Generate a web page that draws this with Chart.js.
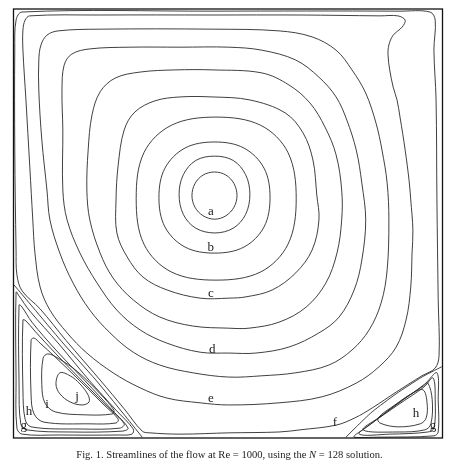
<!DOCTYPE html>
<html>
<head>
<meta charset="utf-8">
<script src="https://cdn.jsdelivr.net/npm/chart.js@4.4.1/dist/chart.umd.min.js"></script>
<style>
  html, body { margin: 0; padding: 0; background: #fff; }
  #wrap { position: relative; width: 459px; height: 474px; }
  #caption {
    position: absolute; left: 0; width: 459px; top: 449px;
    text-align: center; font-family: "Liberation Serif", serif; font-size: 10.6px; color: #222;
  }
</style>
</head>
<body>
<div id="wrap">
  <canvas id="flow-chart" width="459" height="474"></canvas>
  <div id="caption">Fig. 1. Streamlines of the flow at Re = 1000, using the <i>N</i> = 128 solution.</div>
</div>
<script>
// Streamlines in cavity coordinates (x, y from 0 to 1)
// Primary vortex, innermost (a) to the wall-hugging one (f)
const primary1 = [[0.469,0.620],[0.495,0.613],[0.514,0.593],[0.521,0.565],[0.514,0.538],[0.495,0.518],[0.469,0.510],[0.442,0.518],[0.423,0.538],[0.416,0.565],[0.423,0.593],[0.442,0.613]];
const primary2 = [[0.469,0.657],[0.512,0.647],[0.541,0.614],[0.551,0.568],[0.541,0.521],[0.512,0.489],[0.469,0.478],[0.425,0.489],[0.396,0.521],[0.386,0.568],[0.396,0.614],[0.425,0.647]];
const primary3 = [[0.469,0.690],[0.537,0.676],[0.584,0.629],[0.598,0.561],[0.584,0.492],[0.537,0.445],[0.469,0.431],[0.400,0.445],[0.353,0.492],[0.339,0.561],[0.353,0.629],[0.400,0.676]];
const primary4 = [[0.472,0.748],[0.576,0.729],[0.640,0.665],[0.659,0.558],[0.640,0.452],[0.576,0.387],[0.472,0.368],[0.368,0.387],[0.304,0.452],[0.286,0.558],[0.304,0.665],[0.368,0.729]];
const primary5 = [[0.463,0.795],[0.551,0.788],[0.633,0.758],[0.675,0.711],[0.698,0.648],[0.707,0.566],[0.712,0.508],[0.696,0.438],[0.658,0.385],[0.603,0.345],[0.542,0.329],[0.502,0.326],[0.435,0.326],[0.358,0.345],[0.302,0.375],[0.265,0.422],[0.241,0.478],[0.239,0.555],[0.244,0.636],[0.258,0.718],[0.283,0.760],[0.330,0.786],[0.388,0.795]];
const primary6 = [[0.465,0.858],[0.579,0.851],[0.642,0.823],[0.691,0.781],[0.726,0.725],[0.752,0.660],[0.765,0.578],[0.765,0.508],[0.754,0.431],[0.728,0.361],[0.682,0.305],[0.619,0.270],[0.549,0.256],[0.502,0.256],[0.418,0.261],[0.341,0.282],[0.279,0.322],[0.232,0.373],[0.202,0.431],[0.178,0.508],[0.171,0.578],[0.174,0.671],[0.183,0.753],[0.202,0.807],[0.237,0.839],[0.295,0.853],[0.376,0.858]];
const primary7 = [[0.502,0.911],[0.579,0.904],[0.658,0.881],[0.712,0.841],[0.752,0.795],[0.777,0.741],[0.799,0.671],[0.812,0.594],[0.821,0.508],[0.812,0.415],[0.794,0.345],[0.759,0.282],[0.712,0.245],[0.642,0.212],[0.565,0.198],[0.502,0.198],[0.435,0.200],[0.358,0.221],[0.295,0.252],[0.241,0.298],[0.195,0.361],[0.155,0.431],[0.125,0.508],[0.115,0.578],[0.115,0.718],[0.113,0.811],[0.118,0.869],[0.136,0.895],[0.178,0.907],[0.272,0.911],[0.388,0.911]];
const primary8 = [[0.465,0.953],[0.619,0.949],[0.696,0.935],[0.752,0.904],[0.789,0.858],[0.821,0.804],[0.845,0.734],[0.859,0.671],[0.871,0.594],[0.875,0.508],[0.871,0.392],[0.857,0.315],[0.829,0.252],[0.789,0.205],[0.735,0.170],[0.658,0.152],[0.579,0.145],[0.502,0.142],[0.418,0.152],[0.341,0.170],[0.279,0.200],[0.225,0.245],[0.178,0.298],[0.139,0.361],[0.108,0.431],[0.085,0.508],[0.078,0.578],[0.066,0.695],[0.059,0.811],[0.059,0.881],[0.064,0.916],[0.078,0.939],[0.104,0.949],[0.202,0.953]];
const primary9 = [[0.027,0.974],[0.038,0.984],[0.202,0.986],[0.465,0.986],[0.668,0.986],[0.854,0.984],[0.896,0.984],[0.913,0.974],[0.906,0.958],[0.885,0.939],[0.875,0.916],[0.873,0.893],[0.877,0.858],[0.885,0.818],[0.894,0.788],[0.901,0.748],[0.913,0.671],[0.922,0.601],[0.926,0.555],[0.931,0.485],[0.929,0.431],[0.926,0.352],[0.915,0.275],[0.892,0.212],[0.852,0.166],[0.799,0.128],[0.719,0.096],[0.619,0.082],[0.502,0.077],[0.435,0.082],[0.358,0.093],[0.295,0.117],[0.232,0.152],[0.171,0.198],[0.125,0.245],[0.085,0.298],[0.062,0.352],[0.050,0.431],[0.045,0.508],[0.038,0.632],[0.029,0.788],[0.022,0.904],[0.022,0.951]];
const primary10 = [[0.020,0.993],[0.465,0.995],[0.901,0.995],[0.971,0.993],[0.983,0.974],[0.980,0.904],[0.985,0.788],[0.987,0.555],[0.990,0.322],[0.992,0.193],[0.983,0.163],[0.952,0.145],[0.892,0.107],[0.836,0.070],[0.796,0.047],[0.752,0.030],[0.668,0.019],[0.619,0.014],[0.502,0.012],[0.388,0.009],[0.318,0.012],[0.300,0.016],[0.258,0.068],[0.202,0.135],[0.122,0.228],[0.062,0.301],[0.020,0.343],[0.008,0.380],[0.006,0.438],[0.003,0.671],[0.003,0.904],[0.006,0.974]];

// Dividing streamlines of the two bottom corner eddies
const sepLeft = [[0.001,0.357],[0.045,0.305],[0.113,0.224],[0.192,0.135],[0.255,0.058],[0.300,0.002]];
const sepRight = [[0.998,0.166],[0.952,0.142],[0.892,0.103],[0.836,0.061],[0.799,0.026],[0.775,0.002]];

// Bottom-left eddy, outermost to innermost (g, h, i, j)
const cornerLeft1 = [[0.006,0.340],[0.006,0.135],[0.008,0.023],[0.020,0.009],[0.108,0.007],[0.244,0.007],[0.276,0.009],[0.279,0.021],[0.239,0.065],[0.176,0.135],[0.106,0.219],[0.038,0.296],[0.013,0.331]];
const cornerLeft2 = [[0.013,0.310],[0.013,0.124],[0.017,0.033],[0.031,0.019],[0.132,0.014],[0.253,0.016],[0.267,0.023],[0.230,0.065],[0.167,0.133],[0.099,0.205],[0.043,0.270],[0.020,0.305]];
const cornerLeft3 = [[0.022,0.275],[0.022,0.112],[0.027,0.044],[0.041,0.026],[0.155,0.021],[0.248,0.023],[0.258,0.033],[0.220,0.072],[0.160,0.133],[0.099,0.196],[0.050,0.249],[0.029,0.273]];
const cornerLeft4 = [[0.041,0.228],[0.041,0.100],[0.048,0.056],[0.071,0.037],[0.178,0.033],[0.239,0.035],[0.244,0.044],[0.211,0.077],[0.155,0.133],[0.097,0.189],[0.062,0.221],[0.048,0.233]];
const cornerLeft5 = [[0.069,0.186],[0.066,0.124],[0.073,0.082],[0.097,0.061],[0.167,0.054],[0.230,0.056],[0.234,0.065],[0.202,0.103],[0.150,0.154],[0.104,0.186],[0.080,0.196]];
const cornerLeft6 = [[0.108,0.152],[0.132,0.145],[0.155,0.126],[0.174,0.100],[0.176,0.084],[0.160,0.077],[0.132,0.084],[0.108,0.103],[0.099,0.126]];

// Bottom-right eddy, outermost to innermost (g, h)
const cornerRight1 = [[0.987,0.152],[0.990,0.089],[0.990,0.014],[0.980,0.005],[0.854,0.002],[0.794,0.002],[0.824,0.026],[0.889,0.075],[0.959,0.126]];
const cornerRight2 = [[0.978,0.140],[0.983,0.089],[0.980,0.023],[0.966,0.014],[0.877,0.009],[0.806,0.009],[0.836,0.035],[0.896,0.077],[0.957,0.119]];
const cornerRight3 = [[0.966,0.128],[0.976,0.089],[0.973,0.033],[0.959,0.019],[0.894,0.014],[0.815,0.019],[0.854,0.049],[0.913,0.093],[0.955,0.121]];
const cornerRight4 = [[0.955,0.112],[0.964,0.082],[0.962,0.047],[0.948,0.033],[0.896,0.026],[0.854,0.035],[0.850,0.047],[0.889,0.077],[0.931,0.105]];

// Contour letters
const labelText = ["a", "b", "c", "d", "e", "f", "g", "g", "h", "h", "i", "j"];
const labelX = [0.460, 0.460, 0.460, 0.463, 0.460, 0.749, 0.024, 0.978, 0.036, 0.938, 0.078, 0.148];
const labelY = [0.527, 0.445, 0.336, 0.207, 0.091, 0.037, 0.030, 0.030, 0.061, 0.056, 0.077, 0.096];

const closedLines = [primary1, primary2, primary3, primary4, primary5, primary6, primary7, primary8, primary9, primary10,
  cornerLeft1, cornerLeft2, cornerLeft3, cornerLeft4, cornerLeft5, cornerLeft6,
  cornerRight1, cornerRight2, cornerRight3, cornerRight4];
const openLines = [sepLeft, sepRight];

const toPoints = (pairs) => pairs.map(([x, y]) => ({ x, y }));

const lineStyle = {
    borderColor: "#2a2a2a",
    borderWidth: 0.9,
    pointRadius: 0,
    pointHoverRadius: 0,
    tension: 0.35,
    fill: false,
};

const datasets = [
    ...closedLines.map((c) => ({ ...lineStyle, closed: true, data: toPoints(c) })),
    ...openLines.map((c) => ({ ...lineStyle, tension: 0.2, data: toPoints(c) })),
];

// Close the streamlines smoothly (same trick the radar controller uses)
const loopPlugin = {
    id: "loops",
    beforeDatasetsDraw(chart) {
        chart.data.datasets.forEach((ds, i) => {
            if (!ds.closed) return;
            const line = chart.getDatasetMeta(i).dataset;
            line._loop = true;
            line._fullLoop = true;
            line._segments = undefined;
            line._path = undefined;
            line._pointsUpdated = false;
        });
    },
};

// Frame of the cavity
const framePlugin = {
    id: "frame",
    afterDatasetsDraw(chart) {
        const { ctx, chartArea: a } = chart;
        ctx.save();
        ctx.strokeStyle = "#111";
        ctx.lineWidth = 1.3;
        ctx.strokeRect(a.left, a.top, a.right - a.left, a.bottom - a.top);
        ctx.restore();
    },
};

// Letters on the streamlines
const letterPlugin = {
    id: "letters",
    afterDraw(chart) {
        const { ctx, scales } = chart;
        ctx.save();
        ctx.fillStyle = "#222";
        ctx.font = '13px "Liberation Serif", serif';
        ctx.textAlign = "center";
        ctx.textBaseline = "middle";
        labelText.forEach((t, i) => {
            ctx.fillText(t, scales.x.getPixelForValue(labelX[i]), scales.y.getPixelForValue(labelY[i]));
        });
        ctx.restore();
    },
};

new Chart(document.getElementById("flow-chart"), {
    type: "line",
    data: { datasets },
    options: {
        responsive: false,
        devicePixelRatio: 1,
        animation: false,
        layout: { padding: { left: 13.5, right: 16.5, top: 9, bottom: 36 } },
        plugins: { legend: { display: false }, tooltip: { enabled: false } },
        scales: {
            x: { type: "linear", min: 0, max: 1, display: false },
            y: { type: "linear", min: 0, max: 1, display: false },
        },
    },
    plugins: [loopPlugin, framePlugin, letterPlugin],
});
</script>
</body>
</html>
